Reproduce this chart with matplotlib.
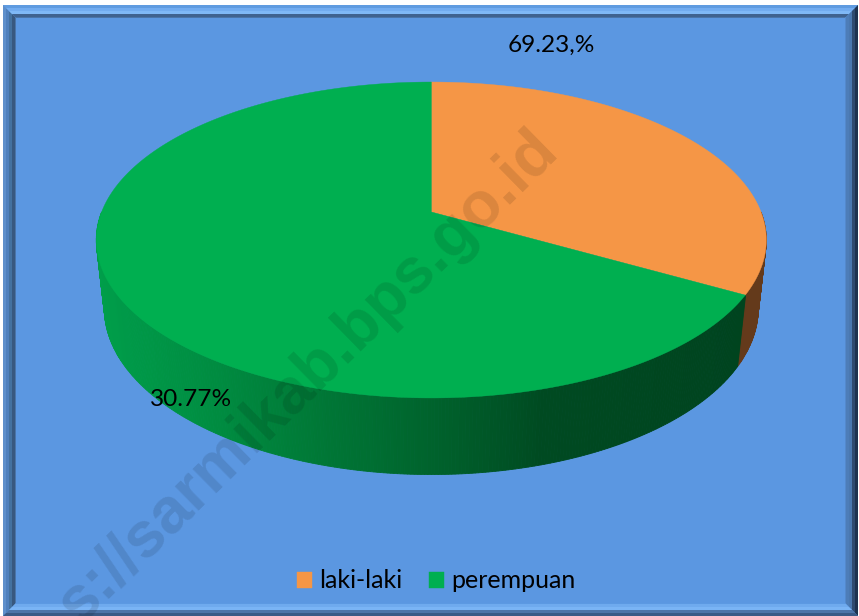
import numpy as np
import matplotlib
matplotlib.use("Agg")
import matplotlib.pyplot as plt
from matplotlib.colors import LinearSegmentedColormap, to_rgb

# ---- data ----
categories = ["laki-laki", "perempuan"]
slice_shares = [33.25, 66.75]          # drawn shares of the two slices
slice_labels = ["69.23,%", "30.77%"]   # labels as printed on the chart
top_colors = ["#F59646", "#00AF50"]
side_colors = ["#643A1B", None]

W, H = 859, 616
fig = plt.figure(figsize=(W / 100, H / 100), dpi=100, facecolor="white")
ax = fig.add_axes([0, 0, 1, 1])
ax.set_xlim(0, W)
ax.set_ylim(H, 0)
ax.axis("off")

# ---- frame ----
BG = "#5B97E1"
def band(xy, c):
    ax.fill(*zip(*xy), color=c, lw=0, zorder=1)

L0, T0, R0, B0 = 3, 5, 858, 616
def frame_strip(i0, i1, cl, ct, cr, cb):
    a = (L0 + i0, T0 + i0 * 1.0, R0 - i0, B0 - i0)
    b = (L0 + i1, T0 + i1 * 1.0, R0 - i1, B0 - i1)
    band([(a[0], a[1]), (b[0], b[1]), (b[0], b[3]), (a[0], a[3])], cl)
    band([(a[0], a[1]), (a[2], a[1]), (b[2], b[1]), (b[0], b[1])], ct)
    band([(a[2], a[1]), (a[2], a[3]), (b[2], b[3]), (b[2], b[1])], cr)
    band([(a[0], a[3]), (a[2], a[3]), (b[2], b[3]), (b[0], b[3])], cb)

ax.fill([L0, R0, R0, L0], [T0, T0, B0, B0], color=BG, lw=0, zorder=0)
frame_strip(0, 3, "#5E8FCB", "#5F9BE0", "#1E3350", "#3A5A86")
frame_strip(3, 6, "#4F80BD", "#72ACF0", "#2F4B70", "#4D74A8")
frame_strip(6, 9, "#44719F", "#7FB8F6", "#4A78B0", "#7AB4F5")
frame_strip(9, 12, "#38587F", "#3F628F", "#4D7DB8", "#6FAAEE")
frame_strip(12, 13, "#4A74A8", "#4A74A8", "#5489CC", "#5C99E2")

# ---- perspective projection of the cylinder ----
CX, CY = 431.3, 212.0
A, B_, K, M, C = 329.7, 153.0, 0.1772, 0.0239, 69.3

def project(theta, z):
    u, v = np.sin(theta), np.cos(theta)
    d = 1 + K * v + M * z
    return CX + A * u / d, CY + (-B_ * v + C * z) / d

edges = np.concatenate([[0], np.cumsum(slice_shares)]) / sum(slice_shares) * 2 * np.pi

green_side = LinearSegmentedColormap.from_list(
    "side",
    [(0.00, "#009E4A"), (0.15, "#008F42"), (0.30, "#007C38"), (0.50, "#00632C"),
     (0.67, "#004A21"), (1.00, "#00431E")],
)

# side wall: only the front part is visible, drawn back to front
n = 720
thetas = np.linspace(0, 2 * np.pi, n + 1)
segs = []
for t0, t1 in zip(thetas[:-1], thetas[1:]):
    cv = np.cos((t0 + t1) / 2)
    if cv < 0.0:
        segs.append((cv, t0, t1))
for _, t0, t1 in sorted(segs, key=lambda s: -s[0]):
    tm = (t0 + t1) / 2
    if tm < edges[1]:
        col = to_rgb(side_colors[0])
    else:
        xm, _y = project(tm, 0)
        col = green_side(np.clip((xm - 96) / (767 - 96), 0, 1))
    xa, ya = project(np.array([t0, t1]), 0)
    xb, yb = project(np.array([t1, t0]), 1)
    ax.fill(np.r_[xa, xb], np.r_[ya, yb], color=col, lw=0.6, zorder=2)

# top face
handles = []
for i, c in enumerate(top_colors):
    th = np.linspace(edges[i], edges[i + 1], 300)
    x, y = project(th, 0)
    h = ax.fill(np.r_[CX, x], np.r_[CY, y], color=c, lw=0.3, zorder=3)[0]
    handles.append(h)

# ---- labels ----
font = "Lato"
ax.text(551.5, 45, slice_labels[0], ha="center", va="center", fontsize=17.6, family=font, color="black", zorder=5)
ax.text(191, 400, slice_labels[1], ha="center", va="center", fontsize=17.6, family=font, color="black", zorder=5)

# ---- watermark ----
ax.text(528, 120, "s://sarmikab.bps.go.id", rotation=44.5, rotation_mode="anchor",
        ha="right", va="top", fontsize=46, fontweight="bold", family="Liberation Sans",
        color="black", alpha=0.11, zorder=4, clip_on=True)

# ---- legend ----
leg = ax.legend(handles, categories, loc="center", bbox_to_anchor=(436 / W, 1 - 581 / H),
                ncol=2, frameon=False, prop={"family": font, "size": 18},
                handlelength=0.62, handleheight=0.62, handletextpad=0.28, columnspacing=1.05)
leg.set_zorder(6)

fig.savefig("out.png", dpi=100, facecolor="white")
